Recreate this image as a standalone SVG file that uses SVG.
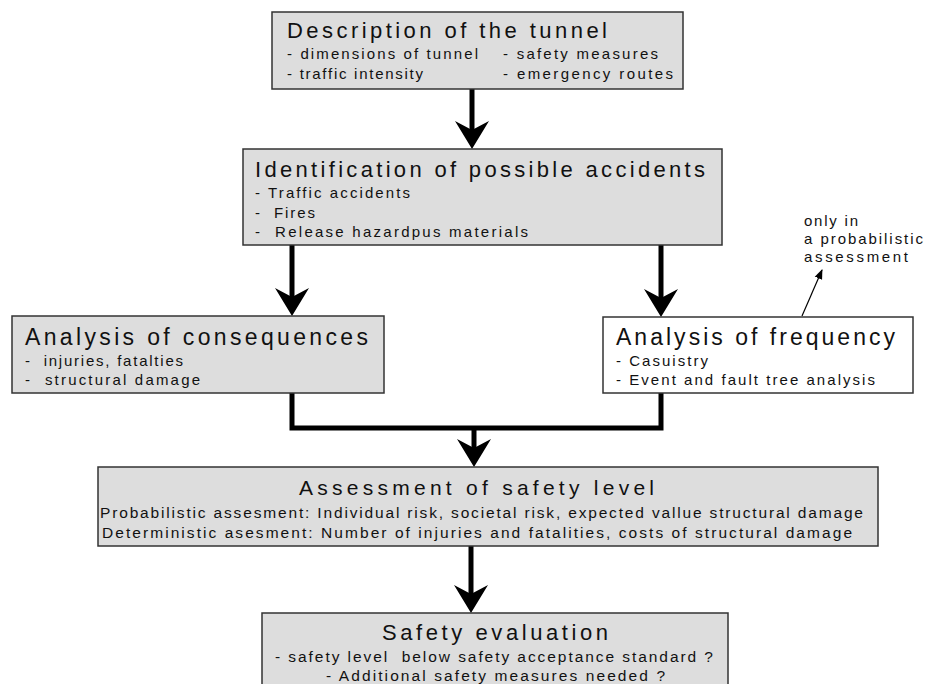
<svg xmlns="http://www.w3.org/2000/svg" xmlns:xlink="http://www.w3.org/1999/xlink" width="927" height="684" viewBox="0 0 927 684">
<style>
.box{fill:#dddddd;stroke:#333333;stroke-width:1.5}
.wbox{fill:#ffffff;stroke:#333333;stroke-width:1.5}
text{font-family:"Liberation Sans",Arial,sans-serif;fill:#111111}
.t{font-size:22px}
.tl{font-size:23px}
.t5{font-size:21px}
.s{font-size:15px}
.m{font-size:15.5px}
.shaft{stroke:#000;stroke-width:5;fill:none}
.thin{stroke:#000;stroke-width:1.2;fill:none}
</style>
<defs>
<path id="head" d="M0,0 L-17,-28 L0,-19 L17,-28 Z" fill="#000"/>
<marker id="sm" markerWidth="10" markerHeight="10" refX="9" refY="5" orient="auto" markerUnits="userSpaceOnUse">
<path d="M0,1 L10,5 L0,9 Z" fill="#000"/>
</marker>
</defs>
<rect width="927" height="684" fill="#ffffff"/>

<g id="connectors">
<line class="shaft" x1="472" y1="89" x2="472" y2="135"/>
<use xlink:href="#head" x="472" y="149"/>
<line class="shaft" x1="292" y1="245" x2="292" y2="302"/>
<use xlink:href="#head" x="292" y="316"/>
<line class="shaft" x1="661" y1="245" x2="661" y2="302"/>
<use xlink:href="#head" x="661" y="317"/>
<path class="shaft" d="M292,393 V428 H661 V393"/>
<line class="shaft" x1="474" y1="428" x2="474" y2="453"/>
<use xlink:href="#head" x="474" y="467"/>
<line class="shaft" x1="471" y1="546" x2="471" y2="599"/>
<use xlink:href="#head" x="471" y="613"/>
<line class="thin" x1="802" y1="316" x2="822" y2="270" marker-end="url(#sm)"/>
</g>

<g id="n1">
<rect class="box" x="272" y="12" width="411" height="77"/>
<text class="t" x="287" y="38" textLength="320" lengthAdjust="spacing">Description of the tunnel</text>
<text class="s" x="287" y="59" textLength="191" lengthAdjust="spacing">- dimensions of tunnel</text>
<text class="s" x="503" y="59" textLength="155" lengthAdjust="spacing">- safety measures</text>
<text class="s" x="287" y="79" textLength="136" lengthAdjust="spacing">- traffic intensity</text>
<text class="s" x="503" y="79" textLength="170" lengthAdjust="spacing">- emergency routes</text>
</g>

<g id="n2">
<rect class="box" x="243" y="149" width="479" height="96"/>
<text class="t" x="255" y="177" textLength="450" lengthAdjust="spacing">Identification of possible accidents</text>
<text class="s" x="255" y="198" textLength="155" lengthAdjust="spacing">- Traffic accidents</text>
<text class="s" x="255" y="218" textLength="60" lengthAdjust="spacing" xml:space="preserve">-  Fires</text>
<text class="s" x="255" y="237" textLength="273" lengthAdjust="spacing" xml:space="preserve">-  Release hazardpus materials</text>
</g>

<g id="n3">
<rect class="box" x="12" y="316" width="372" height="77"/>
<text class="tl" x="25" y="345" textLength="343" lengthAdjust="spacing">Analysis of consequences</text>
<text class="s" x="25" y="366" textLength="158" lengthAdjust="spacing" xml:space="preserve">-  injuries, fatalties</text>
<text class="s" x="25" y="385" textLength="175" lengthAdjust="spacing" xml:space="preserve">-  structural damage</text>
</g>

<g id="n4">
<rect class="wbox" x="603" y="317" width="310" height="76"/>
<text class="tl" x="616" y="345" textLength="279" lengthAdjust="spacing">Analysis of frequency</text>
<text class="s" x="616" y="366" textLength="92" lengthAdjust="spacing">- Casuistry</text>
<text class="s" x="616" y="385" textLength="259" lengthAdjust="spacing">- Event and fault tree analysis</text>
</g>

<g id="note">
<text class="s" x="804" y="226" textLength="54" lengthAdjust="spacing">only in</text>
<text class="s" x="804" y="244" textLength="119" lengthAdjust="spacing">a probabilistic</text>
<text class="s" x="804" y="262" textLength="104" lengthAdjust="spacing">assessment</text>
</g>

<g id="n5">
<rect class="box" x="98" y="467" width="780" height="79"/>
<text class="t5" x="299" y="495" textLength="355" lengthAdjust="spacing">Assessment of safety level</text>
<text class="m" x="100" y="518" textLength="763" lengthAdjust="spacing">Probabilistic assesment: Individual risk, societal risk, expected vallue structural damage</text>
<text class="m" x="102" y="538" textLength="750" lengthAdjust="spacing">Deterministic asesment: Number of injuries and fatalities, costs of structural damage</text>
</g>

<g id="n6">
<rect class="box" x="262" y="613" width="466" height="80"/>
<text class="t" x="382" y="640" textLength="226" lengthAdjust="spacing">Safety evaluation</text>
<text class="m" x="275" y="662" textLength="438" lengthAdjust="spacing" xml:space="preserve">- safety level  below safety acceptance standard ?</text>
<text class="m" x="326" y="681" textLength="339" lengthAdjust="spacing">- Additional safety measures needed ?</text>
</g>
</svg>
